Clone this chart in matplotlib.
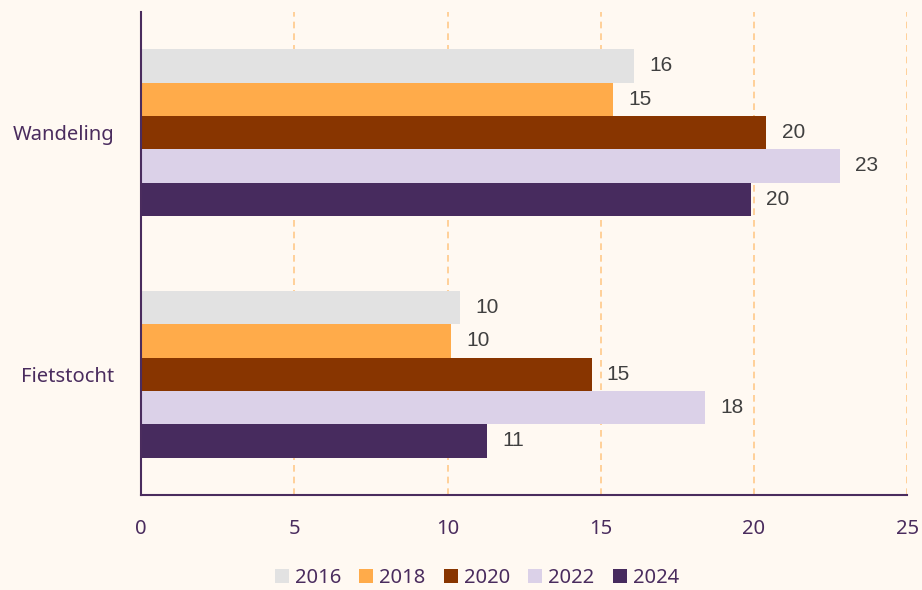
import matplotlib
matplotlib.use('Agg')
import matplotlib.pyplot as plt
import numpy as np
from matplotlib.patches import Patch

# Data
categories = ['Wandeling', 'Fietstocht']
years = ['2016', '2018', '2020', '2022', '2024']
wandeling = [16.1, 15.4, 20.4, 22.8, 19.9]
fietstocht = [10.4, 10.1, 14.7, 18.4, 11.3]
colors = ['#e2e2e2', '#ffab4a', '#883500', '#dbd1e8', '#472b5e']

bg = '#fff9f2'
purple = '#4a2c5e'

plt.rcParams['font.family'] = ['Noto Sans', 'DejaVu Sans']

fig = plt.figure(figsize=(9.22, 5.90), dpi=100, facecolor=bg)
ax = fig.add_axes([0.153, 0.161, 0.831, 0.819], facecolor=bg)

values = np.array([wandeling, fietstocht])  # shape (cat, year)
y = np.arange(len(categories))
h = 0.138

for i, yr in enumerate(years):
    pos = y + (i - 2) * h
    bars = ax.barh(pos, values[:, i], height=h, color=colors[i], zorder=3)
    for b, v in zip(bars, values[:, i]):
        ax.annotate(f'{v:.0f}', (b.get_width(), b.get_y() + b.get_height() / 2),
                    xytext=(11, 0), textcoords='offset points',
                    va='center', ha='left', fontsize=15, color='#404040',
                    family=['Liberation Sans', 'DejaVu Sans'])

ax.set_xlim(0, 25)
ax.set_ylim(-0.5, 1.5)
ax.invert_yaxis()
ax.set_xticks([0, 5, 10, 15, 20, 25])
ax.set_yticks(y)
ax.set_yticklabels(categories)
ax.tick_params(axis='both', length=0, labelsize=14.5, labelcolor=purple)
ax.tick_params(axis='x', pad=17)
ax.tick_params(axis='y', pad=19)

ax.grid(axis='x', color='#ffc98a', linestyle=(0, (4, 3)), linewidth=1.2, zorder=0)
ax.grid(axis='y', visible=False)

for s in ['top', 'right']:
    ax.spines[s].set_visible(False)
for s in ['left', 'bottom']:
    ax.spines[s].set_color(purple)
    ax.spines[s].set_linewidth(1.5)
    ax.spines[s].set_zorder(4)

handles = [Patch(facecolor=c, label=yr) for c, yr in zip(colors, years)]
fig.legend(handles=handles, loc='center', bbox_to_anchor=(0.517, 0.02), ncol=5,
           frameon=False, fontsize=14.5, labelcolor=purple, handlelength=0.7,
           handleheight=0.7, handletextpad=0.3, columnspacing=0.9)

fig.savefig('out.png', dpi=100, facecolor=bg)
